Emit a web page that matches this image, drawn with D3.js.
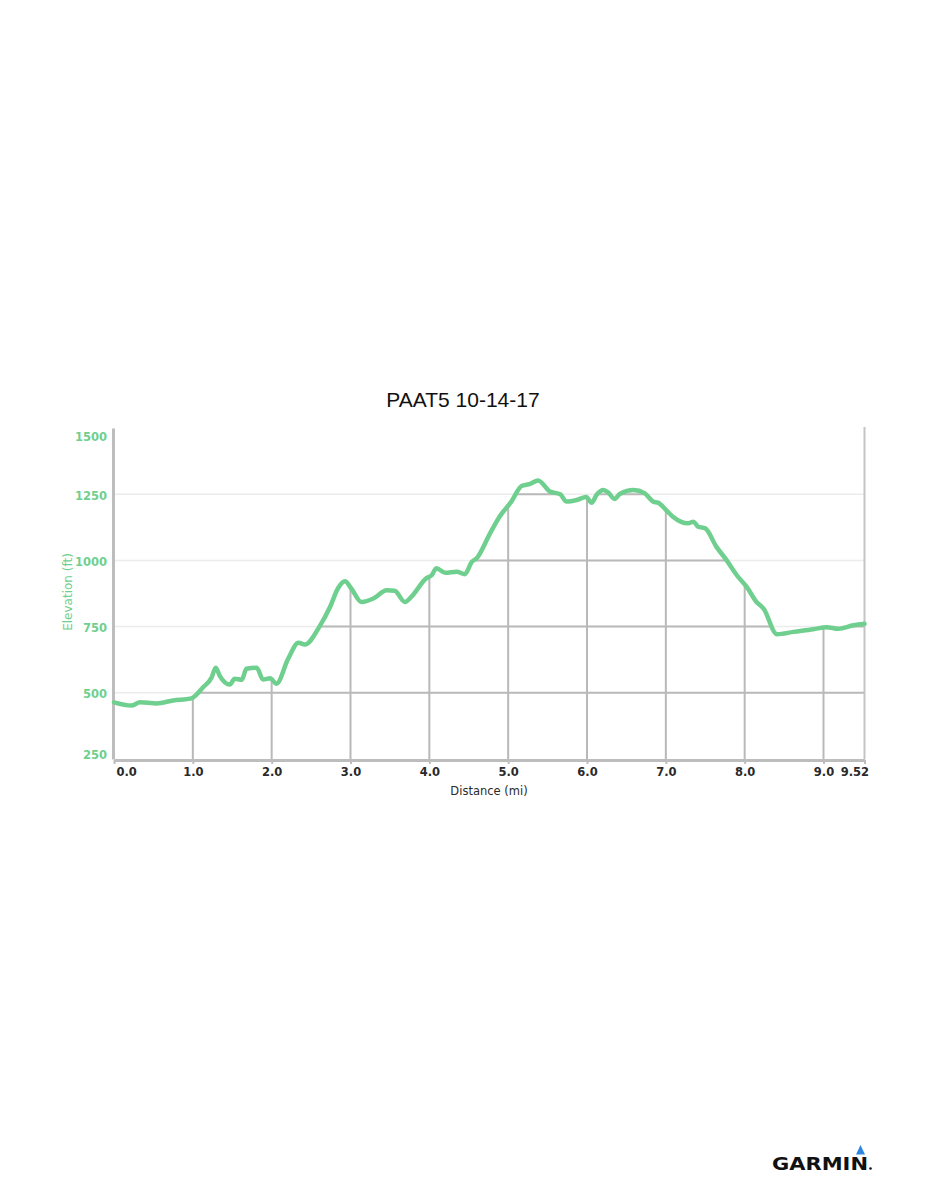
<!DOCTYPE html>
<html><head><meta charset="utf-8">
<script src="https://cdn.jsdelivr.net/npm/d3@7"></script>
<style>body{margin:0;background:#fff}svg{display:block}</style>
</head><body>
<script>
const title = "PAAT5 10-14-17";
const distance = [0,0.22,0.33,0.54,0.75,0.98,1.13,1.24,1.29,1.34,1.47,1.53,1.62,1.68,1.81,1.89,1.98,2.06,2.21,2.34,2.42,2.61,2.74,2.84,2.93,3.01,3.14,3.29,3.46,3.56,3.69,3.77,3.96,4.03,4.09,4.20,4.35,4.45,4.54,4.60,4.77,4.89,5.04,5.17,5.28,5.38,5.53,5.66,5.74,5.87,5.99,6.06,6.12,6.21,6.27,6.35,6.42,6.59,6.73,6.84,6.90,7.01,7.09,7.28,7.35,7.41,7.50,7.64,7.77,7.90,8.03,8.15,8.24,8.41,8.62,8.87,9.04,9.19,9.38,9.52];
const elevation = [464,452,464,460,471,479,521,559,595,565,531,553,549,591,595,550,555,534,629,689,682,752,824,894,921,894,843,856,887,885,843,862,932,944,970,953,957,948,995,1008,1102,1165,1222,1281,1289,1302,1260,1250,1222,1228,1239,1218,1247,1266,1256,1232,1252,1266,1254,1222,1218,1188,1165,1140,1146,1127,1121,1052,1001,944,898,843,818,721,730,740,748,742,755,761];
const xTicks = [0,1,2,3,4,5,6,7,8,9,9.52];
const xTickLabels = ["0.0","1.0","2.0","3.0","4.0","5.0","6.0","7.0","8.0","9.0","9.52"];
const yTicks = [250,500,750,1000,1250,1500];
const yTickLabels = ["250","500","750","1000","1250","1500"];
const xTitle = "Distance (mi)";
const yTitle = "Elevation (ft)";

const W = 926, H = 1200;
const green = "#6fcf8e";
const svg = d3.select("body").append("svg").attr("width", W).attr("height", H);

const pLeft = 114, pRight = 864.5, pTop = 428, pBottom = 759;
const x = d3.scaleLinear().domain([0, 9.52]).range([pLeft, pRight]);
const y = d3.scaleLinear().domain([250, 1500]).range([pBottom, pTop]);
const data = distance.map((d, i) => ({d, e: elevation[i]}));

svg.append("text").attr("x", 463).attr("y", 407).attr("text-anchor", "middle")
  .attr("font-family", "Liberation Sans, Arial, sans-serif").attr("font-size", 21)
  .attr("fill", "#111").text(title);

// light horizontal grid everywhere
svg.append("g").selectAll("line").data(yTicks.filter(t => t > 250 && t < 1500)).join("line")
  .attr("x1", pLeft).attr("x2", pRight).attr("y1", d => y(d)).attr("y2", d => y(d))
  .attr("stroke", "#ececec").attr("stroke-width", 1.5);

// clip area under the curve
const area = d3.area().x(d => x(d.d)).y0(pBottom).y1(d => y(d.e)).curve(d3.curveMonotoneX);
svg.append("clipPath").attr("id", "under").append("path").datum(data).attr("d", area);
const gDark = svg.append("g").attr("clip-path", "url(#under)");
gDark.selectAll("line.h").data(yTicks.filter(t => t > 250 && t < 1500)).join("line").attr("class", "h")
  .attr("x1", pLeft).attr("x2", pRight).attr("y1", d => y(d)).attr("y2", d => y(d))
  .attr("stroke", "#b9b9b9").attr("stroke-width", 2);
gDark.selectAll("line.v").data(xTicks.slice(1, -1)).join("line").attr("class", "v")
  .attr("x1", d => x(d)).attr("x2", d => x(d)).attr("y1", pTop).attr("y2", pBottom)
  .attr("stroke", "#b9b9b9").attr("stroke-width", 2);

// right border
svg.append("line").attr("x1", pRight).attr("x2", pRight).attr("y1", pTop - 1).attr("y2", pBottom)
  .attr("stroke", "#c4c4c4").attr("stroke-width", 2);

// axes
const xAxis = d3.axisBottom(x).tickValues(xTicks).tickFormat((d, i) => xTickLabels[i]).tickSize(4).tickSizeOuter(0);
const gx = svg.append("g").attr("transform", `translate(0,${pBottom + 1})`).call(xAxis);
gx.select(".domain").attr("stroke", "#bdbdbd").attr("stroke-width", 3);
gx.selectAll(".tick line").attr("stroke", "#bdbdbd").attr("stroke-width", 2);
gx.selectAll(".tick text").attr("font-family", "DejaVu Sans, Verdana, sans-serif").attr("font-size", 11.5)
  .attr("font-weight", "bold").attr("fill", "#2a2a2a").attr("dy", null).attr("y", 16)
  .attr("text-anchor", (d, i) => i === 0 ? "start" : (i === xTicks.length - 1 ? "end" : "middle"))
  .attr("x", (d, i) => i === 0 ? 2 : (i === xTicks.length - 1 ? 4 : 0));

const yAxis = d3.axisLeft(y).tickValues(yTicks).tickFormat((d, i) => yTickLabels[i]).tickSize(0).tickPadding(6);
const gy = svg.append("g").attr("transform", `translate(${pLeft - 1},0)`).call(yAxis);
gy.select(".domain").attr("stroke", "#bdbdbd").attr("stroke-width", 3);
gy.selectAll(".tick text").attr("font-family", "DejaVu Sans, Verdana, sans-serif").attr("font-size", 11.5)
  .attr("font-weight", "bold").attr("fill", green).attr("dy", "0.35em")
  .attr("y", d => d === 1500 ? 8 : (d === 250 ? -5 : 1));

svg.append("text").attr("x", 489).attr("y", 795).attr("text-anchor", "middle")
  .attr("font-family", "DejaVu Sans, Verdana, sans-serif").attr("font-size", 11.5)
  .attr("fill", "#2a2a2a").text(xTitle);
svg.append("text").attr("transform", "translate(72,592) rotate(-90)").attr("text-anchor", "middle")
  .attr("font-family", "DejaVu Sans, Verdana, sans-serif").attr("font-size", 12)
  .attr("fill", green).text(yTitle);

// elevation line
svg.append("path").datum(data)
  .attr("d", d3.line().x(d => x(d.d)).y(d => y(d.e)).curve(d3.curveMonotoneX))
  .attr("fill", "none").attr("stroke", green).attr("stroke-width", 4.5)
  .attr("stroke-linejoin", "round").attr("stroke-linecap", "round");

// Garmin logo
svg.append("text").attr("x", 772).attr("y", 1170)
  .attr("font-family", "DejaVu Sans, Verdana, sans-serif").attr("font-weight", "bold").attr("font-size", 17)
  .attr("textLength", 96).attr("lengthAdjust", "spacingAndGlyphs").attr("fill", "#111").text("GARMIN");
svg.append("circle").attr("cx", 870.5).attr("cy", 1168.5).attr("r", 1.3).attr("fill", "#111");
svg.append("path").attr("d", "M860.5,1145 L865,1154.5 L856,1154.5 Z").attr("fill", "#2f86e0");
</script>
</body></html>
